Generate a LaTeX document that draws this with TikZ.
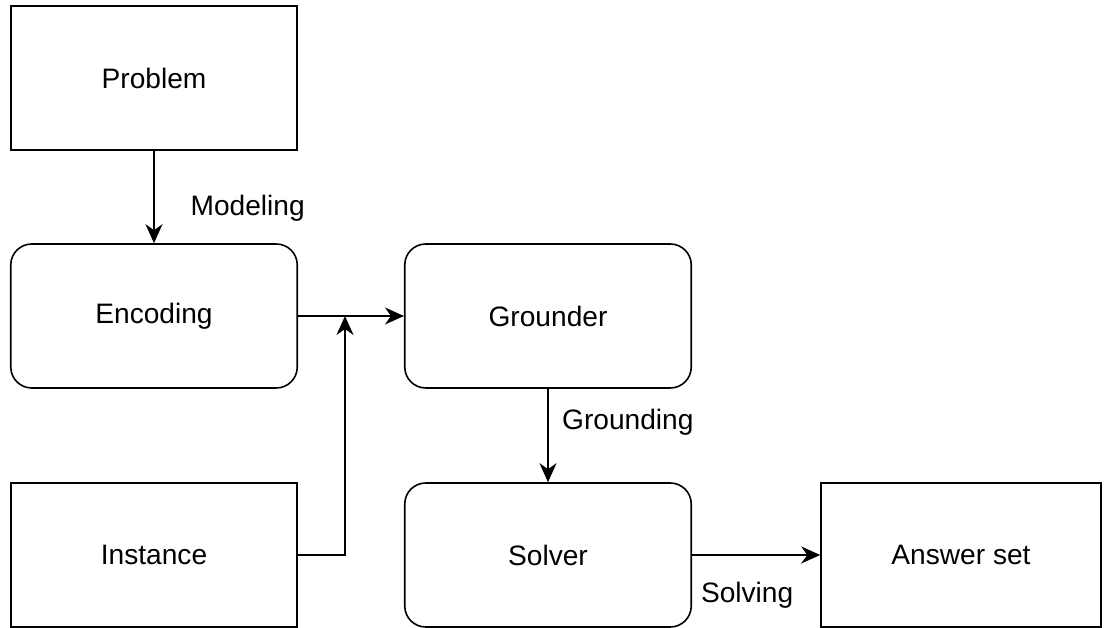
\documentclass[tikz,border=0pt]{standalone}
\usepackage{fontspec}
\setmainfont{Liberation Sans}
\usetikzlibrary{arrows.meta}

\begin{document}
\begin{tikzpicture}[
	box/.style={shape=rectangle,draw=black,line width=0.9pt,minimum width=5.73cm,minimum height=2.88cm,font=\fontsize{16}{19}\selectfont},
	rbox/.style={box,rounded corners=0.42cm},
	flow/.style={line width=0.9pt,-{Stealth[length=0.38cm,width=0.34cm,inset=0.12cm]}},
	lbl/.style={font=\fontsize{16}{19}\selectfont}]
	\useasboundingbox (0,0) rectangle (22.08,12.56);

	\node[box]  (problem)  at (3.08, 11.00)   {Problem};
	\node[rbox] (encoding) at (3.08, 6.24)    {Encoding};
	\node[rbox] (grounder) at (10.96, 6.24)   {Grounder};
	\node[box]  (instance) at (3.08, 1.46)    {Instance};
	\node[rbox] (solver)   at (10.96, 1.46)   {Solver};
	\node[box,minimum width=5.6cm] (answer) at (19.22, 1.46) {Answer set};
	\coordinate (join) at (6.9, 6.24);

	\path[flow] (problem) edge node[lbl,pos=0.62,right=0.6cm]{Modeling} (encoding);
	\path[flow] (encoding) edge (grounder);
	\draw[flow] (instance.east) -| (join);
	\path[flow] (grounder) edge node[lbl,pos=0.36,right=0.15cm]{Grounding} (solver);
	\path[flow] (solver) edge node[lbl,pos=0.43,below=0.4cm]{Solving} (answer);

\end{tikzpicture}
\end{document}
